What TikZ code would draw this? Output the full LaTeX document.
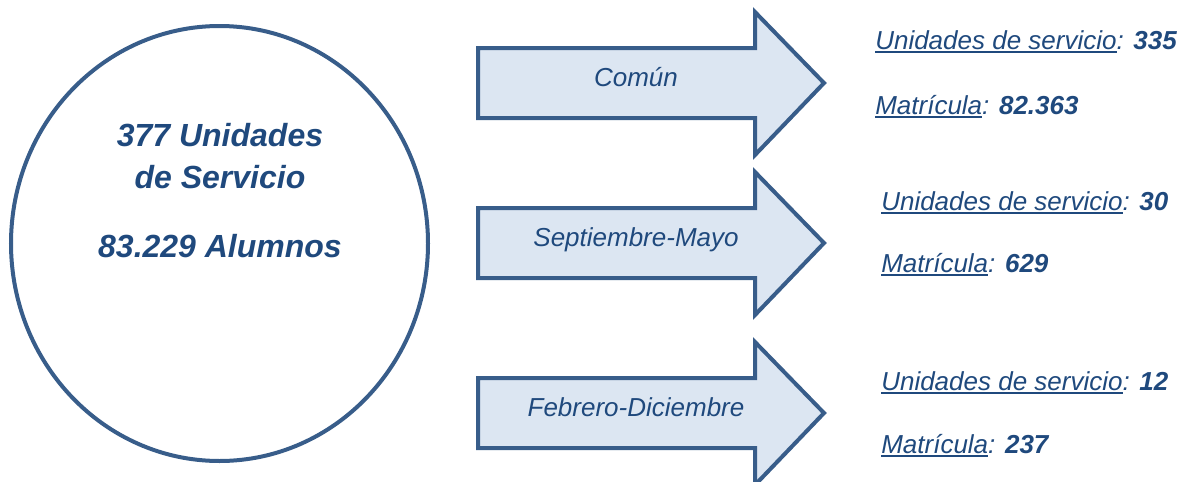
\documentclass[tikz,border=0pt]{standalone}
\usepackage{fontspec}
\setmainfont{Liberation Sans}
\definecolor{txtblue}{HTML}{1F497D}
\definecolor{lineblue}{HTML}{385D8A}
\definecolor{fillblue}{HTML}{DCE6F2}
\newcommand\myul[1]{\setbox0\hbox{#1}\rlap{\rule[-3.2pt]{\wd0}{1.6pt}}\box0}
\tikzset{
  shapeline/.style={draw=lineblue, line width=3pt, line join=miter},
  arrowshape/.style={shapeline, fill=fillblue},
  bigtxt/.style={text=txtblue, font=\fontsize{24}{28}\selectfont\bfseries\itshape, inner sep=0pt, anchor=base},
  arrtxt/.style={text=txtblue, font=\fontsize{19.5}{23}\selectfont\itshape, inner sep=0pt, anchor=base},
  infotxt/.style={text=txtblue, font=\fontsize{19.5}{23}\selectfont\itshape, inner sep=0pt, anchor=base west},
}
\begin{document}
\begin{tikzpicture}[x=0.75pt,y=-0.75pt]
\useasboundingbox (0,0) rectangle (1186,482);
\clip (0,0) rectangle (1186,482);
% circle
\draw[shapeline] (219.5,243.5) ellipse [x radius=208.5, y radius=217.5];
\node[bigtxt] (c1) at (220,146) {377 Unidades};
\node[bigtxt] (c2) at (220,188) {de Servicio};
\node[bigtxt] (c3) at (220,257) {83.229 Alumnos};
% arrows
\foreach \y/\lab/\nm in {83/Común/a1, 243/Septiembre-Mayo/a2, 413/Febrero-Diciembre/a3}{
  \draw[arrowshape] (478,\y-35) -- (755,\y-35) -- (755,\y-71) -- (824,\y) -- (755,\y+72) -- (755,\y+35) -- (478,\y+35) -- cycle;
  \node[arrtxt] (\nm) at (636,\y+3) {\lab};
}
% info texts
\node[infotxt] (u1) at (875,49) {\myul{Unidades de servicio}: \textbf{335}};
\node[infotxt] (m1) at (875,114) {\myul{Matrícula}: \textbf{82.363}};
\node[infotxt] (u2) at (881,210) {\myul{Unidades de servicio}: \textbf{30}};
\node[infotxt] (m2) at (881,272) {\myul{Matrícula}: \textbf{629}};
\node[infotxt] (u3) at (881,390) {\myul{Unidades de servicio}: \textbf{12}};
\node[infotxt] (m3) at (881,453) {\myul{Matrícula}: \textbf{237}};
\end{tikzpicture}
\end{document}
